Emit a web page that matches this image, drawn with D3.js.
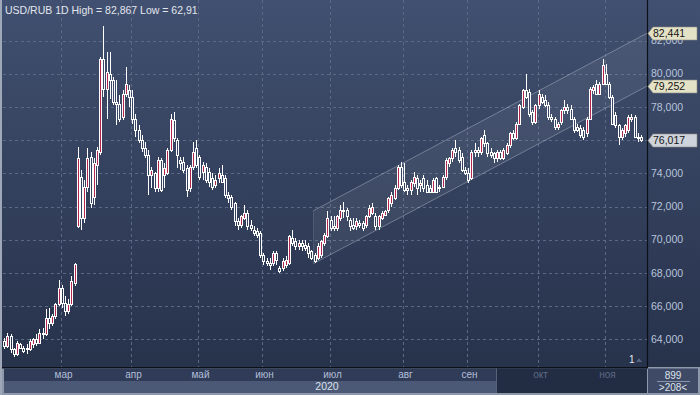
<!DOCTYPE html>
<html>
<head>
<meta charset="utf-8">
<script src="https://cdn.jsdelivr.net/npm/d3@7"></script>
<style>
  body { margin: 0; background: #2c3853; }
  svg { display: block; font-family: "Liberation Sans", Arial, sans-serif; }
</style>
</head>
<body>
<script>
// daily candles USD/RUB, Feb..Nov 2020
const opens = [
  63.9,63.6,64.2,63.4,63.1,63.7,63.5,63.5,63.4,63.7,
  64.0,63.8,64.4,64.3,65.3,65.0,65.4,66.1,67.1,66.2,
  65.7,66.1,67.4,70.8,73.8,71.3,73.2,75.0,72.6,74.5,
  75.3,80.9,79.1,80.0,79.6,78.3,78.2,77.4,78.8,79.0,
  78.6,77.3,76.6,76.0,75.5,75.1,73.9,74.0,73.1,74.8,
  73.9,74.0,75.4,77.2,76.0,74.8,74.7,74.3,73.1,74.4,
  75.5,75.0,74.1,74.4,74.1,73.7,73.3,73.7,73.9,73.7,
  72.7,72.6,72.2,71.1,70.9,71.3,71.6,70.9,70.6,70.5,
  70.4,69.1,68.7,68.6,68.6,69.2,68.3,68.3,68.5,68.6,
  70.1,69.9,69.6,69.8,69.7,69.6,69.3,69.1,68.9,69.1,
  69.8,70.2,71.2,70.8,70.7,71.3,71.8,71.8,71.2,70.9,
  70.8,71.0,71.0,70.9,71.4,71.6,71.4,70.8,71.3,71.5,
  71.8,72.2,72.5,73.1,74.4,73.5,73.1,73.0,73.4,73.7,
  73.3,73.7,73.3,73.1,72.9,73.7,73.1,73.2,73.8,74.6,
  74.9,75.5,75.4,75.0,74.2,74.0,73.7,75.3,75.4,75.3,
  76.3,75.8,75.3,75.2,74.9,75.3,74.9,75.2,75.7,76.4,
  76.1,77.0,78.0,79.0,78.9,77.7,77.1,78.1,78.6,78.4,
  78.1,77.4,77.3,76.8,77.1,77.8,78.0,77.9,77.3,76.8,
  76.7,76.6,76.4,77.3,79.0,79.4,78.8,79.4,80.0,79.4,
  78.6,77.5,76.9,76.2,76.4,76.6,77.3,77.4,76.2,76.2
];
const highs = [
  64.1,64.4,64.3,63.5,63.9,63.8,63.6,63.7,64.0,64.1,
  64.3,64.6,64.7,65.8,65.9,65.5,66.2,67.6,67.3,66.6,
  66.4,67.8,68.6,75.6,74.2,73.6,75.5,75.3,74.9,75.6,
  81.0,82.867,81.3,81.3,79.8,79.6,78.7,79.0,80.4,79.3,
  79.0,77.6,76.9,76.3,75.9,75.4,74.4,74.1,75.0,74.9,
  74.6,75.5,77.6,77.7,76.1,75.0,75.0,74.5,74.5,75.9,
  76.0,75.1,74.7,74.6,74.3,74.0,73.9,74.3,74.5,73.9,
  72.9,72.7,72.3,71.3,71.5,72.1,71.8,71.2,70.8,70.7,
  70.5,69.2,68.9,68.9,69.3,69.3,68.4,68.9,69.0,70.3,
  70.6,70.1,70.0,70.0,70.0,69.8,69.4,69.2,69.8,70.0,
  70.4,71.7,71.4,71.4,71.5,72.1,72.3,71.9,71.3,71.3,
  71.3,71.2,71.1,71.5,72.1,72.2,71.6,71.5,71.7,71.8,
  72.6,72.9,73.3,74.5,74.7,74.6,73.3,73.6,74.1,73.9,
  73.6,73.9,73.6,73.3,73.7,73.8,73.3,73.9,74.9,75.0,
  75.5,76.0,75.6,75.2,74.4,74.3,75.4,75.8,75.6,76.2,
  76.6,75.9,75.5,75.3,75.4,75.4,75.5,75.8,76.5,76.6,
  77.1,78.2,79.1,80.0,79.1,77.8,78.2,79.0,78.8,78.7,
  78.3,77.6,77.4,77.1,77.9,78.4,78.2,78.1,77.4,77.0,
  76.9,76.8,77.4,79.2,79.3,79.6,79.5,80.9,80.6,79.5,
  78.7,77.7,77.0,76.7,77.0,77.5,77.6,77.5,76.4,76.3
];
const lows = [
  63.4,63.5,63.2,62.91,63.0,63.4,63.2,63.1,63.3,63.5,
  63.6,63.7,64.0,64.2,64.6,64.8,65.2,66.0,65.9,65.4,
  65.5,66.0,67.2,70.7,70.6,71.0,72.9,71.9,72.1,73.3,
  75.1,78.6,77.3,78.5,78.1,76.9,77.1,77.2,78.6,78.0,
  77.0,76.2,75.8,75.3,74.9,72.7,73.1,72.9,72.9,72.9,
  73.1,73.9,75.3,75.9,74.3,74.2,74.0,72.6,72.9,74.2,
  74.3,73.6,73.6,73.4,73.2,73.0,73.1,73.4,73.4,72.5,
  72.2,71.8,70.8,70.6,70.7,71.2,70.6,70.5,70.2,70.1,
  68.9,68.5,68.4,68.2,68.4,68.5,68.0,68.1,68.3,68.5,
  69.6,69.4,69.4,69.3,69.3,68.9,68.8,68.6,68.8,68.9,
  69.6,70.1,70.5,70.5,70.5,71.1,71.3,71.1,70.5,70.6,
  70.6,70.7,70.5,70.7,71.3,71.5,70.6,70.6,71.2,71.4,
  71.6,72.0,72.4,73.0,73.1,72.9,72.7,72.7,73.2,72.7,
  72.9,72.9,72.8,72.8,72.8,72.8,72.9,73.1,73.6,74.4,
  74.7,75.0,74.6,74.1,73.9,73.4,73.6,75.0,75.0,75.1,
  75.6,75.0,74.9,74.6,74.7,74.8,74.8,75.1,75.5,76.0,
  76.0,76.9,77.9,78.5,77.4,76.9,77.0,77.9,78.2,78.0,
  77.2,77.1,76.6,76.6,76.9,77.6,77.6,77.2,76.4,76.5,
  76.1,76.0,76.2,77.2,78.8,78.7,78.7,79.3,79.3,78.5,
  76.9,76.7,75.7,76.0,76.2,76.4,77.1,76.1,75.9,75.9
];
const closes = [
  63.6,64.2,63.4,63.1,63.8,63.5,63.3,63.4,63.9,64.0,
  63.8,64.4,64.3,65.3,65.0,65.4,66.1,67.1,66.2,65.7,
  66.1,67.5,68.55,74.9,71.3,73.2,74.9,72.2,74.6,75.4,
  80.9,79.1,80.1,79.6,78.3,78.2,77.3,78.8,79.4,78.6,
  77.3,76.6,76.0,75.5,75.1,73.9,74.2,73.1,74.8,73.0,
  74.3,75.4,77.3,76.1,75.1,74.6,74.2,73.0,74.4,75.3,
  74.5,73.8,74.5,73.6,73.5,73.2,73.6,74.0,73.5,72.7,
  72.5,72.0,71.1,70.9,71.4,71.6,70.8,70.7,70.4,70.3,
  69.1,68.7,68.6,68.5,69.2,68.8,68.1,68.7,68.8,70.2,
  69.8,69.6,69.8,69.6,69.5,69.2,68.9,68.7,69.6,69.9,
  70.3,71.3,70.7,70.7,71.4,71.8,71.8,71.4,70.8,70.7,
  71.1,70.9,70.7,71.4,71.9,72.0,70.8,71.4,71.6,71.7,
  72.5,72.7,73.1,74.4,73.3,73.0,73.0,73.5,73.8,73.1,
  73.4,73.1,72.9,72.9,73.6,72.9,73.2,73.8,74.8,74.9,
  75.4,75.3,74.8,74.2,74.0,73.6,75.3,75.4,75.3,76.1,
  75.8,75.2,75.1,74.9,75.3,74.9,75.4,75.7,76.4,76.1,
  77.0,78.1,79.0,78.6,77.6,77.1,78.1,78.8,78.3,78.1,
  77.4,77.3,76.8,77.0,77.8,78.0,77.8,77.3,76.6,76.6,
  76.3,76.2,77.3,79.1,79.2,78.8,79.4,80.5,79.4,78.6,
  77.0,76.9,76.2,76.6,76.9,77.4,77.4,76.2,76.1,76.017
];

// month starts (candle index) and labels
const monthLabels = ["мар", "апр", "май", "июн", "июл", "авг", "сен", "окт", "ноя"];
const monthStart = [18, 40, 61, 81, 102, 125, 145, 167, 188];
const yTicks = [64, 66, 68, 70, 72, 74, 76, 78, 80, 82];

// regression channel: starts at candle 97, runs to the right edge
const channelStart = 97;
const channelUpper = [71.75, 82.441];
const channelLower = [68.56, 79.252];

// price tags on the axis
const tagValues = [82.441, 79.252, 76.017];
const tagColors = ["#e4e2c6", "#e4e2c6", "#cfd3db"];

const titleText = "USD/RUB 1D High = 82,867 Low = 62,91";
const yearLabel = "2020";

const w = 700;
const h = 395;
const p = { left: 3, right: 647, top: 0, bottom: 367 };

const svg = d3.select("body").append("svg")
  .attr("width", w)
  .attr("height", h);

const defs = svg.append("defs");
const grad = defs.append("linearGradient")
  .attr("id", "bg")
  .attr("gradientUnits", "userSpaceOnUse")
  .attr("x1", 0).attr("y1", 0).attr("x2", 0).attr("y2", p.bottom);
grad.append("stop").attr("offset", 0).attr("stop-color", "#415070");
grad.append("stop").attr("offset", 1).attr("stop-color", "#27324b");

// background
svg.append("rect")
  .attr("width", w).attr("height", p.bottom)
  .attr("fill", "url(#bg)");

const x = d3.scaleBand()
  .domain(d3.range(opens.length))
  .range([3.1, 643.1]);

const y = d3.scaleLinear()
  .domain([64, 82])
  .range([339.3, 40.5]);

const fmt = v => d3.format(".3f")(v).replace(".", ",");

// grid
const grid = svg.append("g")
  .attr("stroke", "#5b6986")
  .attr("stroke-dasharray", "3,3")
  .attr("stroke-width", 1);

grid.selectAll("line.v")
  .data(monthStart)
  .enter().append("line")
  .attr("class", "v")
  .attr("x1", d => Math.round(x(d)) + 0.5)
  .attr("x2", d => Math.round(x(d)) + 0.5)
  .attr("y1", p.top)
  .attr("y2", p.bottom);

grid.selectAll("line.h")
  .data(yTicks)
  .enter().append("line")
  .attr("class", "h")
  .attr("x1", p.left)
  .attr("x2", p.right)
  .attr("y1", d => Math.round(y(d)) + 0.5)
  .attr("y2", d => Math.round(y(d)) + 0.5);

// channel
const cx0 = x(channelStart);
const cx1 = p.right;
svg.append("path")
  .attr("d", `M${cx0},${y(channelUpper[0])}L${cx1},${y(channelUpper[1])}L${cx1},${y(channelLower[1])}L${cx0},${y(channelLower[0])}Z`)
  .attr("fill", "rgba(255,255,255,0.06)")
  .attr("stroke", "none");

const chLine = svg.append("g")
  .attr("stroke", "rgba(220,228,240,0.35)")
  .attr("stroke-width", 1)
  .attr("fill", "none");
chLine.append("line")
  .attr("x1", cx0).attr("y1", y(channelUpper[0]))
  .attr("x2", cx1).attr("y2", y(channelUpper[1]));
chLine.append("line")
  .attr("x1", cx0).attr("y1", y(channelLower[0]))
  .attr("x2", cx1).attr("y2", y(channelLower[1]));
chLine.append("line")
  .attr("x1", cx0).attr("y1", y(channelUpper[0]))
  .attr("x2", cx0).attr("y2", y(channelLower[0]))
  .attr("stroke", "rgba(220,228,240,0.15)");

// candles
const candles = svg.append("g").attr("class", "candles");
const cpos = i => Math.floor(x(i) + x.bandwidth() / 2);

candles.selectAll("line")
  .data(d3.range(opens.length))
  .enter().append("line")
  .attr("x1", i => cpos(i) + 0.5)
  .attr("x2", i => cpos(i) + 0.5)
  .attr("y1", i => Math.round(y(highs[i])))
  .attr("y2", i => Math.round(y(lows[i])))
  .attr("stroke", "#ffffff")
  .attr("stroke-width", 1);

candles.selectAll("rect")
  .data(d3.range(opens.length))
  .enter().append("rect")
  .attr("x", i => cpos(i) - 0.5)
  .attr("width", 2)
  .attr("y", i => Math.round(y(Math.max(opens[i], closes[i]))) + 0.5)
  .attr("height", i => Math.max(1, Math.round(y(Math.min(opens[i], closes[i]))) - Math.round(y(Math.max(opens[i], closes[i])))))
  .attr("fill", i => closes[i] >= opens[i] ? "#b3264f" : "url(#bg)")
  .attr("stroke", "#ffffff")
  .attr("stroke-width", 1);

// title
svg.append("text")
  .attr("x", 5)
  .attr("y", 13.5)
  .attr("fill", "#e2e6ee")
  .attr("font-size", 10.5)
  .text(titleText);

// "1" marker
svg.append("text")
  .attr("x", 629)
  .attr("y", 363)
  .attr("fill", "#e6e8ee")
  .attr("font-size", 10)
  .text("1");
svg.append("path")
  .attr("d", "M636,362L639,358L642,362Z")
  .attr("fill", "#56637e");

// right axis
svg.append("line")
  .attr("x1", p.right + 0.5).attr("x2", p.right + 0.5)
  .attr("y1", 0).attr("y2", p.bottom)
  .attr("stroke", "#0b1019")
  .attr("stroke-width", 1.2);

// tick labels; the ones fully under a price tag are not visible in the original
const hidden = v => tagValues.some(t => Math.abs(y(t) - y(v)) < 4);
svg.append("g").selectAll("text")
  .data(yTicks.filter(v => !hidden(v)))
  .enter().append("text")
  .attr("x", 651)
  .attr("y", d => y(d))
  .attr("dy", "0.35em")
  .attr("fill", "#b8c4dc")
  .attr("font-size", 10.5)
  .text(d => fmt(d));

// price tags
const tags = svg.append("g").selectAll("g")
  .data(tagValues)
  .enter().append("g")
  .attr("transform", d => `translate(0,${Math.round(y(d)) + 0.5})`);

tags.append("path")
  .attr("d", "M648,0L653,-6.5L697,-6.5L697,6.5L653,6.5Z")
  .attr("fill", (d, i) => tagColors[i])
  .attr("stroke", "#8d8f86")
  .attr("stroke-width", 0.6);

tags.append("text")
  .attr("x", 653)
  .attr("dy", "0.36em")
  .attr("fill", "#141414")
  .attr("font-size", 10.5)
  .text(d => fmt(d));

// bottom axis
const bottom = svg.append("g");
bottom.append("rect")
  .attr("x", 0).attr("y", p.bottom)
  .attr("width", w).attr("height", h - p.bottom)
  .attr("fill", "#8d98aa");
bottom.append("rect")
  .attr("x", 0).attr("y", p.bottom).attr("width", p.right + 1).attr("height", 1.5)
  .attr("fill", "#0b1019");
bottom.append("rect")
  .attr("x", 4).attr("y", 368.5).attr("width", p.right - 4).attr("height", 12.5)
  .attr("fill", "#2f3b57");
bottom.append("rect")
  .attr("x", 4).attr("y", 381).attr("width", p.right - 4).attr("height", 12)
  .attr("fill", "#4b5977");
bottom.append("rect")
  .attr("x", 497).attr("y", 368.5).attr("width", p.right - 497).attr("height", 24.5)
  .attr("fill", "#222c42");
bottom.append("rect")
  .attr("x", 496).attr("y", 368.5).attr("width", 1).attr("height", 24.5)
  .attr("fill", "#56627c");

bottom.selectAll("text.month")
  .data(monthLabels)
  .enter().append("text")
  .attr("class", "month")
  .attr("x", (d, i) => Math.round(x(monthStart[i])) + 2.5)
  .attr("y", 377.5)
  .attr("text-anchor", "middle")
  .attr("font-size", 10)
  .attr("fill", (d, i) => x(monthStart[i]) > 497 ? "#5d6b88" : "#b3bfd7")
  .text(d => d);

bottom.append("text")
  .attr("x", 327)
  .attr("y", 390)
  .attr("text-anchor", "middle")
  .attr("font-size", 10.5)
  .attr("fill", "#dde2ea")
  .text(yearLabel);

// corner box
bottom.append("rect")
  .attr("x", 648).attr("y", 368.5).attr("width", 50).attr("height", 24.5)
  .attr("fill", "#3e4a66");
bottom.append("text")
  .attr("x", 673).attr("y", 378.5)
  .attr("text-anchor", "middle")
  .attr("font-size", 10)
  .attr("fill", "#dfe3ea")
  .text("899");
bottom.append("line")
  .attr("x1", 657).attr("x2", 690)
  .attr("y1", 381.5).attr("y2", 381.5)
  .attr("stroke", "#8a95aa");
bottom.append("text")
  .attr("x", 673).attr("y", 391)
  .attr("text-anchor", "middle")
  .attr("font-size", 10)
  .attr("fill", "#dfe3ea")
  .text(">208<");

// left frame edge
svg.append("rect")
  .attr("x", 0).attr("y", 0).attr("width", 2).attr("height", h)
  .attr("fill", "#9ea8b8");
</script>
</body>
</html>
